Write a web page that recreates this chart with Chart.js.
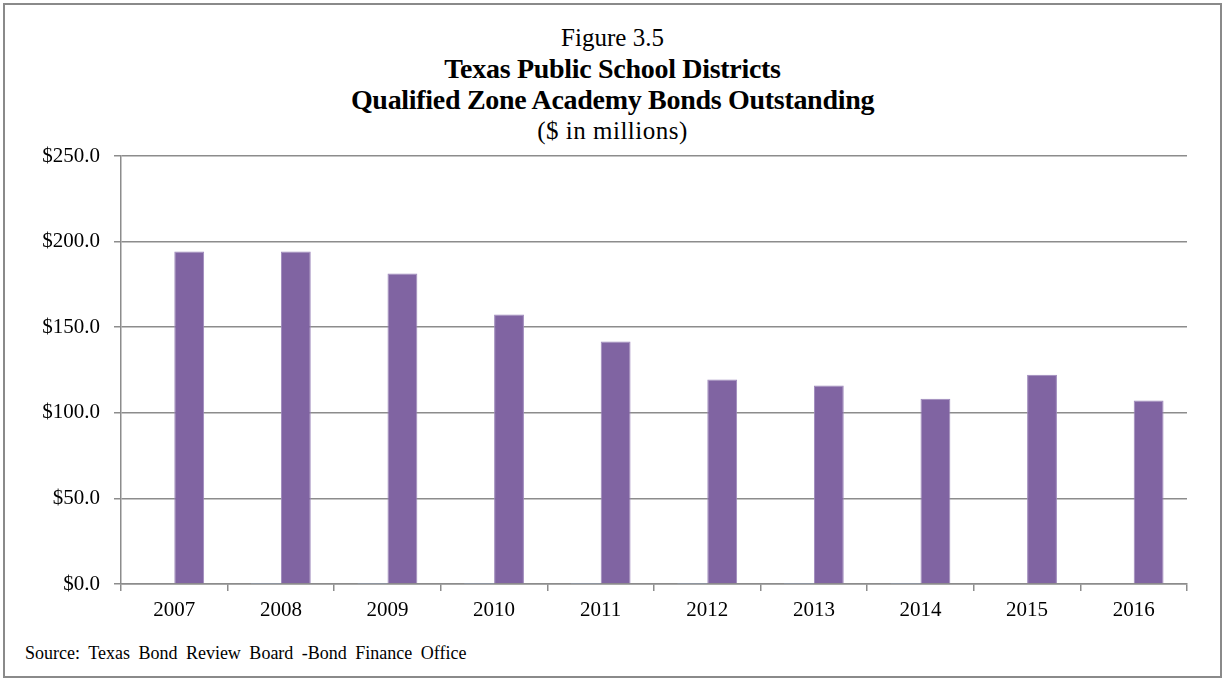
<!DOCTYPE html>
<html>
<head>
<meta charset="utf-8">
<title>Qualified Zone Academy Bonds Outstanding</title>
<script src="https://cdn.jsdelivr.net/npm/chart.js@4.4.1/dist/chart.umd.min.js"></script>
<style>
    body { margin: 0; background: #fff; }
    .frame {
        position: absolute; left: 3px; top: 3px; width: 1219px; height: 675px;
        box-sizing: border-box; border: 2px solid #8a8a8a;
    }
    .heading {
        position: absolute; left: 0; top: 22px; width: 1225px; text-align: center;
        font-family: "Liberation Serif", serif; color: #000;
    }
    .heading div { height: 31px; line-height: 31px; }
    .heading .fig { font-size: 25px; }
    .heading .bold { font-size: 28px; font-weight: bold; letter-spacing: -0.3px; }
    .heading .unit { font-size: 25px; letter-spacing: 0.5px; }
    .source {
        position: absolute; left: 25px; top: 643px;
        font-family: "Liberation Serif", serif; font-size: 18px; word-spacing: 4px;
    }
    canvas { position: absolute; left: 0; top: 0; }
</style>
</head>
<body>
<div class="frame"></div>
<div class="heading">
    <div class="fig">Figure 3.5</div>
    <div class="bold">Texas Public School Districts</div>
    <div class="bold">Qualified Zone Academy Bonds Outstanding</div>
    <div class="unit">($ in millions)</div>
</div>
<div class="source">Source: Texas Bond Review Board -Bond Finance Office</div>
<canvas id="qzab" width="1225" height="681"></canvas>
<script>
const years = ["2007", "2008", "2009", "2010", "2011", "2012", "2013", "2014", "2015", "2016"];
// small second series, barely above zero
const otherBonds = [0, 0.6, 0.6, 0.6, 0.6, 0.6, 0.6, 0.6, 0, 0];
const qzabOutstanding = [194.2, 194.2, 181.3, 157.4, 141.6, 119.4, 116.0, 108.2, 122.2, 107.2];
const yTicks = [0, 50, 100, 150, 200, 250];

const serif = "'Liberation Serif', serif";
const gridGrey = "#8c8c8c";

const config = {
    type: "bar",
    data: {
        labels: years,
        datasets: [
            {
                label: "Other",
                data: otherBonds,
                backgroundColor: "#95B3D7",
                categoryPercentage: 0.56,
                barPercentage: 1.0
            },
            {
                label: "QZAB",
                data: qzabOutstanding,
                backgroundColor: "#8064A2",
                borderColor: "#9d88bb",
                borderWidth: { top: 1, left: 1, right: 1, bottom: 0 },
                categoryPercentage: 0.56,
                barPercentage: 1.0
            }
        ]
    },
    options: {
        responsive: false,
        animation: false,
        layout: { padding: { top: 156, right: 38, bottom: 57, left: 0 } },
        plugins: {
            legend: { display: false },
            tooltip: { enabled: false }
        },
        scales: {
            x: {
                afterFit: (scale) => { scale.height = 40; },
                grid: {
                    offset: true,
                    drawOnChartArea: false,
                    tickLength: 7,
                    color: gridGrey,
                    lineWidth: 1.5
                },
                border: { color: gridGrey, width: 1.5 },
                ticks: {
                    padding: 7,
                    color: "#000",
                    font: { family: serif, size: 21 }
                }
            },
            y: {
                min: 0,
                max: 250,
                afterFit: (scale) => { scale.width = 121; },
                afterBuildTicks: (scale) => {
                    scale.ticks = yTicks.map(v => ({ value: v }));
                },
                grid: {
                    tickLength: 7,
                    color: gridGrey,
                    lineWidth: 1.5
                },
                border: { color: gridGrey, width: 1.5 },
                ticks: {
                    padding: 14,
                    color: "#000",
                    font: { family: serif, size: 21 },
                    callback: (v) => "$" + Number(v).toFixed(1)
                }
            }
        }
    }
};

new Chart(document.getElementById("qzab"), config);
</script>
</body>
</html>
